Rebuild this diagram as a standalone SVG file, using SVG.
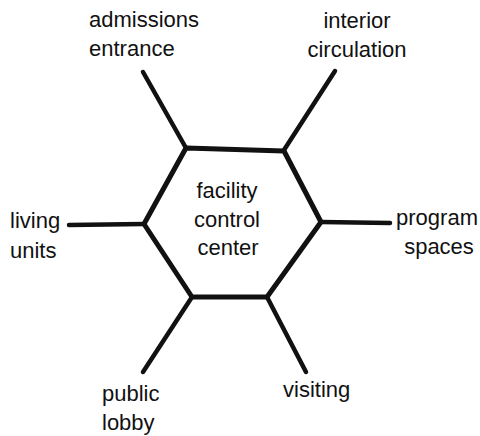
<svg xmlns="http://www.w3.org/2000/svg" width="480" height="436" viewBox="0 0 480 436">
<style>
text{font-family:"Liberation Sans",Arial,sans-serif;font-size:22px;fill:#111}
.c{text-anchor:middle}
.ln{stroke:#111;stroke-width:4.5;stroke-linecap:round;fill:none}
.hex{stroke:#111;stroke-width:5;stroke-linejoin:round;fill:none}
</style>
<rect width="480" height="436" fill="#fff"/>
<g id="connectors">
<line class="ln" x1="143" y1="72" x2="186" y2="148"/>
<line class="ln" x1="335" y1="71" x2="284" y2="150"/>
<line class="ln" x1="69" y1="225" x2="144" y2="224"/>
<line class="ln" x1="321" y1="222" x2="390" y2="223"/>
<line class="ln" x1="192" y1="297" x2="143" y2="372"/>
<line class="ln" x1="267" y1="297" x2="306" y2="372"/>
</g>
<g id="center">
<polygon class="hex" points="186,148 284,151 321,222 267,297 192,297 144,224"/>
<text class="c" x="227" y="198">facility</text>
<text class="c" x="227" y="227">control</text>
<text class="c" x="228" y="255">center</text>
</g>
<g id="admissions"><text x="89" y="27">admissions</text><text x="89" y="56">entrance</text></g>
<g id="interior"><text class="c" x="357" y="28">interior</text><text class="c" x="357" y="57">circulation</text></g>
<g id="living"><text x="10" y="228">living</text><text x="10" y="258">units</text></g>
<g id="program"><text class="c" x="437" y="225">program</text><text class="c" x="439" y="254">spaces</text></g>
<g id="public"><text x="102" y="401">public</text><text x="102" y="430">lobby</text></g>
<g id="visiting"><text x="283" y="397">visiting</text></g>
</svg>
